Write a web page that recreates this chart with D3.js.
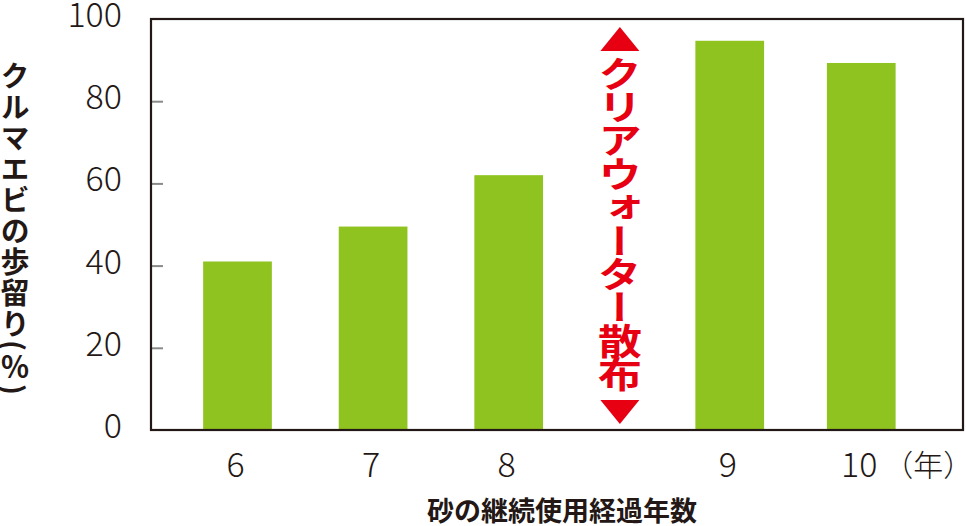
<!DOCTYPE html>
<html><head><meta charset="utf-8">
<script src="https://cdn.jsdelivr.net/npm/d3@7"></script>
<style>
html,body{margin:0;padding:0;background:#fff;}
svg{display:block;}
</style></head>
<body>
<svg id="chart" width="966" height="526"></svg>
<script>
// ---- data ----
const categories = ["6", "7", "8", "9", "10"];
const slots = [0, 1, 2, 3.63, 4.6];          // categorical slot positions (gap before 9)
const values = [41, 49.5, 62, 94.7, 89.3];   // クルマエビの歩留り (%)
const yTicks = [0, 20, 40, 60, 80, 100];
const markerSlot = 2.82;                     // position of クリアウォーター散布 marker
const markerText = "クリアウォーター散布";
const xUnit = "（年）";
const yTitle = "クルマエビの歩留り(％)";
const xTitle = "砂の継続使用経過年数";

// ---- layout ----
const W = 966, H = 526;
const frame = {left: 151, right: 963, top: 19, bottom: 430};
const ink = "#231815", green = "#8fc31f", red = "#e60012";
const numFont = "'Noto Sans CJK JP', 'Noto Sans', sans-serif";
const jpFont = "'Noto Sans CJK JP', sans-serif";

const svg = d3.select("#chart");

const y = d3.scaleLinear().domain([0, 100]).range([frame.bottom, frame.top]);
const x = d3.scaleLinear().domain([0, 1]).range([237.5, 373.1]);
const barW = 68.7;

// bars
svg.append("g").selectAll("rect").data(values).join("rect")
  .attr("x", (d, i) => x(slots[i]) - barW / 2)
  .attr("y", d => y(d))
  .attr("width", barW)
  .attr("height", d => y(0) - y(d))
  .attr("fill", green);

// inner tick marks on left axis
const yAxis = d3.axisRight(y).tickValues(yTicks.filter(t => t > 0 && t < 100))
  .tickSize(12).tickFormat("");
const gy = svg.append("g").attr("transform", `translate(${frame.left},0)`).call(yAxis);
gy.select(".domain").remove();
gy.selectAll(".tick line").attr("stroke", "#8a8a8a").attr("stroke-width", 2);

// y tick labels
svg.append("g").selectAll("text").data(yTicks).join("text")
  .attr("x", 122)
  .attr("y", d => y(d) + 8)
  .attr("text-anchor", "end")
  .attr("font-family", numFont)
  .attr("font-weight", 300)
  .attr("font-size", 34)
  .attr("fill", ink)
  .text(d => d);

// frame
svg.append("rect")
  .attr("x", frame.left).attr("y", frame.top)
  .attr("width", frame.right - frame.left).attr("height", frame.bottom - frame.top)
  .attr("fill", "none").attr("stroke", ink).attr("stroke-width", 2.2);

// x tick labels
svg.append("g").selectAll("text").data(categories).join("text")
  .attr("x", (d, i) => x(slots[i]) - 2)
  .attr("y", 477)
  .attr("text-anchor", "middle")
  .attr("font-family", numFont)
  .attr("font-weight", 300)
  .attr("font-size", 34)
  .attr("fill", ink)
  .text(d => d);

svg.append("text")
  .attr("x", x(slots[slots.length - 1]) + 22)
  .attr("y", 476)
  .attr("font-family", jpFont)
  .attr("font-weight", 300)
  .attr("font-size", 30)
  .attr("fill", ink)
  .text(xUnit);

// x title
svg.append("text")
  .attr("x", 562).attr("y", 521)
  .attr("text-anchor", "middle")
  .attr("font-family", jpFont)
  .attr("font-weight", 700)
  .attr("font-size", 27)
  .attr("fill", ink)
  .text(xTitle);

// y title (vertical)
svg.append("text")
  .attr("x", 15).attr("y", 61)
  .style("writing-mode", "vertical-rl")
  .attr("font-family", jpFont)
  .attr("font-weight", 700)
  .attr("font-size", 29)
  .attr("letter-spacing", 2)
  .attr("fill", ink)
  .text(yTitle);

// marker: arrows + vertical red text
const mx = x(markerSlot);
const triW = 39, triH = 24;
const topApex = y(100) + 8, botApex = y(0) - 6;
svg.append("path")
  .attr("d", `M${mx},${topApex}L${mx + triW / 2},${topApex + triH}L${mx - triW / 2},${topApex + triH}Z`)
  .attr("fill", red);
svg.append("path")
  .attr("d", `M${mx},${botApex}L${mx + triW / 2},${botApex - triH}L${mx - triW / 2},${botApex - triH}Z`)
  .attr("fill", red);

svg.append("g").attr("transform", `translate(${mx},0) scale(1.22,1)`)
  .append("text")
  .attr("x", 0).attr("y", 56)
  .style("writing-mode", "vertical-rl")
  .attr("font-family", jpFont)
  .attr("font-weight", 700)
  .attr("font-size", 36)
  .attr("letter-spacing", -2.6)
  .attr("fill", red)
  .text(markerText);
</script>
</body></html>
